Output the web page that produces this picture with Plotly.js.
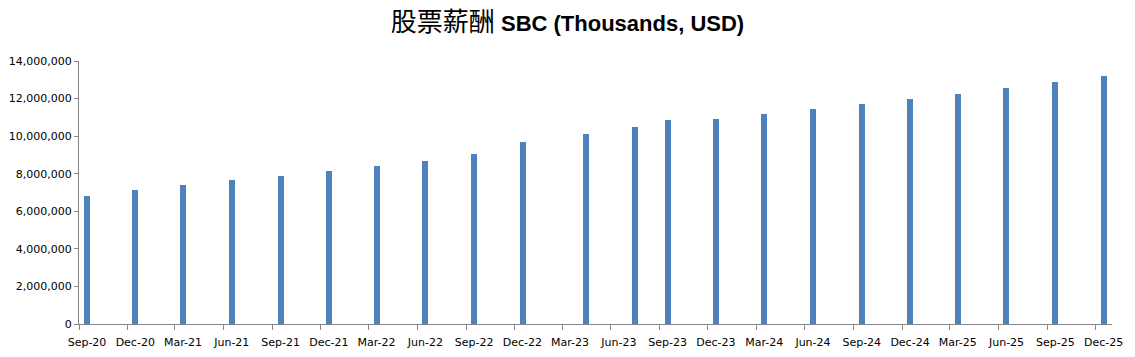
<!DOCTYPE html>
<html>
<head>
<meta charset="utf-8">
<script src="https://cdn.plot.ly/plotly-3.0.1.min.js"></script>
<style>html,body{margin:0;padding:0;background:#fff;}#chart{width:1135px;height:357px;}</style>
</head>
<body>
<div id="chart"></div>
<script>
// Reporting months (bars sit in the middle of each month slot)
const periods = ["2020-09-01","2020-12-01","2021-03-01","2021-06-01","2021-09-01","2021-12-01",
  "2022-03-01","2022-06-01","2022-09-01","2022-12-01","2023-04-01","2023-07-01",
  "2023-09-01","2023-12-01","2024-03-01","2024-06-01","2024-09-01","2024-12-01",
  "2025-03-01","2025-06-01","2025-09-01","2025-12-01"];
// SBC, thousands USD
const sbcValues = [6810000,7130000,7410000,7660000,7890000,8140000,
  8410000,8670000,9050000,9690000,10110000,10480000,
  10860000,10910000,11180000,11440000,11710000,
  11970000,12240000,12560000,12880000,13200000];
const titleCn = "股票薪酬";
const titleEn = "SBC (Thousands, USD)";

const DAY = 86400000;
const trace = {
  type: "bar",
  x: periods,
  y: sbcValues,
  xperiod: "M1",
  xperiodalignment: "middle",
  width: 11.3 * DAY,
  marker: {color: "#4F81BD"},
  hoverinfo: "x+y"
};

const layout = {
  width: 1135, height: 357,
  margin: {l: 79, r: 23, t: 61, b: 33},
  paper_bgcolor: "#ffffff",
  plot_bgcolor: "#ffffff",
  showlegend: false,
  title: {
    text: '<span style="font-size:26px">' + titleCn + '</span> <b>' + titleEn + '</b>',
    x: 0.5, xanchor: "center",
    y: 0.935, yanchor: "middle",
    font: {family: "Liberation Sans, Noto Sans CJK SC, sans-serif", size: 22, color: "#000"}
  },
  xaxis: {
    type: "date",
    range: ["2020-09-01", "2026-01-01"],
    tickmode: "linear",
    tick0: "2020-09-01",
    dtick: "M3",
    tickformat: "%b-%y",
    ticklabelshift: 8,
    ticklabelstandoff: 3,
    ticks: "outside", ticklen: 5, tickcolor: "#868686", tickwidth: 1,
    showline: true, linecolor: "#868686", linewidth: 1,
    showgrid: false, zeroline: false,
    tickfont: {family: "DejaVu Sans, sans-serif", size: 11, color: "#000"},
    fixedrange: true
  },
  yaxis: {
    range: [0, 14000000],
    tickmode: "linear", tick0: 0, dtick: 2000000,
    tickformat: ",d",
    ticks: "outside", ticklen: 4, tickcolor: "#868686", tickwidth: 1,
    showline: true, linecolor: "#868686", linewidth: 1,
    showgrid: false, zeroline: false,
    tickfont: {family: "DejaVu Sans, sans-serif", size: 11, color: "#000"},
    fixedrange: true
  },
  bargap: 0
};

Plotly.newPlot("chart", [trace], layout, {displayModeBar: false, staticPlot: true});
</script>
</body>
</html>
